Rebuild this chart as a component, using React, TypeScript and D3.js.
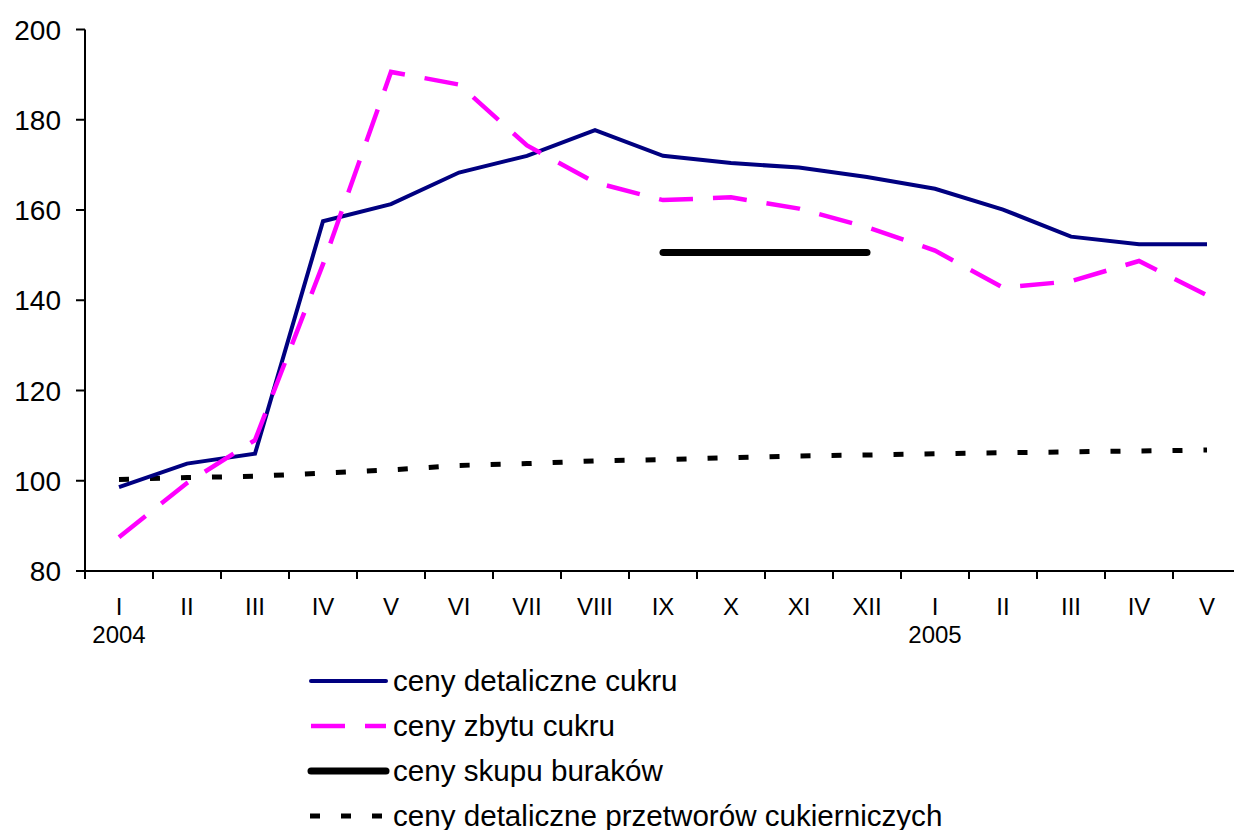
import React from "react";
import * as d3 from "d3";

const months = ["I", "II", "III", "IV", "V", "VI", "VII", "VIII", "IX", "X", "XI", "XII", "I", "II", "III", "IV", "V"];
const yearLabels = [{ index: 0, label: "2004" }, { index: 12, label: "2005" }];
const yTicks = [80, 100, 120, 140, 160, 180, 200];

const retailSugar = [98.6, 103.8, 106.0, 157.5, 161.3, 168.3, 172.0, 177.7, 172.0, 170.4, 169.4, 167.3, 164.7, 160.1, 154.1, 152.4, 152.4];
const sugarSales = [87.5, 99.5, 109.0, 148.0, 190.6, 187.8, 174.3, 166.1, 162.2, 162.8, 160.3, 156.2, 151.0, 142.8, 144.2, 148.7, 141.1];
const beetPurchase: (number | null)[] = [null, null, null, null, null, null, null, null, 150.6, 150.6, 150.6, 150.6, null, null, null, null, null];
const confectionery = [100.3, 100.7, 101.0, 101.7, 102.4, 103.4, 103.8, 104.4, 104.7, 105.1, 105.5, 105.7, 106.0, 106.2, 106.4, 106.6, 106.8];

const seriesNames = [
  "ceny detaliczne cukru",
  "ceny zbytu cukru",
  "ceny skupu buraków",
  "ceny detaliczne przetworów cukierniczych",
];

const FONT = "Arial, 'Liberation Sans', sans-serif";

export default function App() {
  const W = 1234, H = 830;
  const left = 85, bandW = 68;
  const keys = months.map((_, i) => String(i));
  const x = d3.scaleBand<string>().domain(keys).range([left, left + bandW * months.length]).padding(0);
  const cx = (i: number) => (x(String(i)) as number) + x.bandwidth() / 2;
  const y = d3.scaleLinear().domain([80, 200]).range([571, 29.5]);

  const line = d3.line<number | null>()
    .defined((d) => d !== null)
    .x((_, i) => cx(i))
    .y((d) => y(d as number));

  const boundaries = d3.range(months.length + 1).map((i) => left + i * x.step());

  const styles = [
    { color: "#000080", width: 4, dash: undefined as string | undefined, cap: "butt" as const },
    { color: "#FF00FF", width: 4.5, dash: "34 20", cap: "butt" as const },
    { color: "#000000", width: 7, dash: undefined as string | undefined, cap: "round" as const },
    { color: "#000000", width: 5, dash: "10 21", cap: "butt" as const },
  ];
  const allSeries = [retailSugar, sugarSales, beetPurchase, confectionery];

  const legendY = [681, 726, 771, 816];

  return (
    <svg width={W} height={H} style={{ position: "fixed", left: 0, top: 0, background: "#fff" }} fontFamily={FONT}>
      <rect x={0} y={0} width={W} height={H} fill="#fff" />
      {/* y axis */}
      <line x1={left} x2={left} y1={y(200)} y2={y(80)} stroke="#000" strokeWidth={2} />
      {yTicks.map((t) => (
        <g key={t}>
          <line x1={left - 9} x2={left} y1={y(t)} y2={y(t)} stroke="#000" strokeWidth={2} />
          <text x={61} y={y(t)} dy="0.36em" textAnchor="end" fontSize={28} fill="#000">{t}</text>
        </g>
      ))}
      {/* x axis */}
      <line x1={left} x2={W} y1={y(80)} y2={y(80)} stroke="#000" strokeWidth={2} />
      {boundaries.map((b, i) => (
        <line key={i} x1={b} x2={b} y1={y(80)} y2={y(80) + 8} stroke="#000" strokeWidth={2} />
      ))}
      {months.map((m, i) => (
        <text key={i} x={cx(i)} y={615} textAnchor="middle" fontSize={24} fill="#000">{m}</text>
      ))}
      {yearLabels.map((yl) => (
        <text key={yl.label} x={cx(yl.index)} y={643} textAnchor="middle" fontSize={24} fill="#000">{yl.label}</text>
      ))}
      {/* series */}
      {[3, 0, 1, 2].map((si) => (
        <path key={si} d={line(allSeries[si]) || ""} fill="none" stroke={styles[si].color}
          strokeWidth={styles[si].width} strokeDasharray={styles[si].dash}
          strokeLinecap={styles[si].cap} strokeLinejoin="miter" />
      ))}
      {/* legend */}
      {seriesNames.map((name, i) => (
        <g key={name}>
          <line x1={i === 3 ? 310 : 311} x2={386} y1={legendY[i]} y2={legendY[i]} stroke={styles[i].color}
            strokeWidth={styles[i].width} strokeDasharray={styles[i].dash}
            strokeLinecap={i === 0 || i === 2 ? "round" : "butt"} />
          <text x={393} y={legendY[i] + 10} fontSize={29.6} fill="#000">{name}</text>
        </g>
      ))}
    </svg>
  );
}
